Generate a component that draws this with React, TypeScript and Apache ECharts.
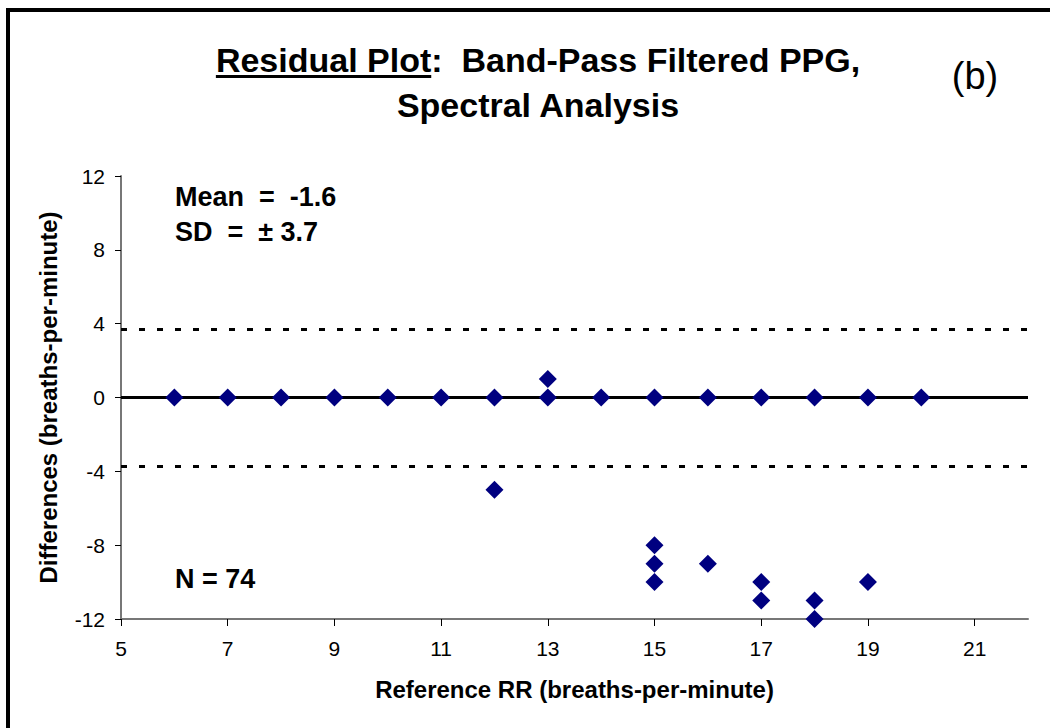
import React, { useEffect, useRef } from "react";
import * as echarts from "echarts";

// ---- data ----
const refRR: number[] = [6, 7, 8, 9, 10, 11, 12, 13, 14, 15, 16, 17, 18, 19, 20, 13, 12, 15, 15, 15, 16, 17, 17, 18, 18, 19];
const differences: number[] = [0, 0, 0, 0, 0, 0, 0, 0, 0, 0, 0, 0, 0, 0, 0, 1, -5, -8, -9, -10, -9, -10, -11, -11, -12, -10];
const xTickLabels: number[] = [5, 7, 9, 11, 13, 15, 17, 19, 21];
const zeroLine = 0;
const sdLines: number[] = [3.7, -3.7];
const meanText = "Mean  =  -1.6";
const sdText = "SD  =  ± 3.7";
const nText = "N = 74";
const titleA = "Residual Plot";
const titleB = ":  Band-Pass Filtered PPG,";
const titleLine2 = "Spectral Analysis";
const panelTag = "(b)";
const xName = "Reference RR (breaths-per-minute)";
const yName = "Differences (breaths-per-minute)";

const FONT = "'Liberation Sans', Arial, Helvetica, sans-serif";

function measure(text: string, font: string): number {
  const c = document.createElement("canvas").getContext("2d");
  if (!c) return text.length * 10;
  c.font = font;
  return c.measureText(text).width;
}

export default function App() {
  const ref = useRef<HTMLDivElement>(null);
  useEffect(() => {
    if (!ref.current) return;
    const chart = echarts.init(ref.current, null, { renderer: "svg" });
    const titleSize = 34;
    const titleFont = `bold ${titleSize}px ${FONT}`;
    const wA = measure(titleA, titleFont);
    const wAll = measure(titleA + titleB, titleFont);
    const cx = 538;
    const startX = cx - wAll / 2;

    const points = refRR.map((x, i) => [x, differences[i]]);

    chart.setOption({
      animation: false,
      backgroundColor: "#ffffff",
      grid: { left: 121, right: 22, top: 176, bottom: 109, containLabel: false },
      xAxis: {
        type: "value",
        min: 5,
        max: 22,
        name: xName,
        nameLocation: "middle",
        nameGap: 58,
        nameTextStyle: { fontFamily: FONT, fontWeight: "bold", fontSize: 24, color: "#000" },
        axisLine: { show: true, onZero: false, lineStyle: { color: "#777", width: 2 } },
        axisTick: { show: true, length: 7, inside: false, lineStyle: { color: "#000", width: 1 }, customValues: xTickLabels },
        axisLabel: { show: true, margin: 19, fontFamily: FONT, fontSize: 21, color: "#000", customValues: xTickLabels },
        splitLine: { show: false },
      },
      yAxis: {
        type: "value",
        min: -12,
        max: 12,
        interval: 4,
        name: yName,
        nameLocation: "middle",
        nameGap: 61,
        nameTextStyle: { fontFamily: FONT, fontWeight: "bold", fontSize: 24, color: "#000" },
        axisLine: { show: true, onZero: false, lineStyle: { color: "#777", width: 2 } },
        axisTick: { show: true, length: 6, inside: false, lineStyle: { color: "#000", width: 1 } },
        axisLabel: { show: true, margin: 16, fontFamily: FONT, fontSize: 21, color: "#000" },
        splitLine: { show: false },
      },
      series: [
        {
          type: "scatter",
          data: points,
          symbol: "diamond",
          symbolSize: 18,
          itemStyle: { color: "#000080", opacity: 1 },
          z: 5,
          markLine: {
            silent: true,
            symbol: "none",
            label: { show: false },
            z: 2,
            data: [
              { yAxis: zeroLine, lineStyle: { color: "#000", width: 3, type: "solid", opacity: 1 } },
              ...sdLines.map((v) => ({ yAxis: v, lineStyle: { color: "#000", width: 3, type: [6, 12], opacity: 1 } })),
            ],
          },
        },
      ],
      graphic: [
        {
          type: "rect",
          shape: { x: 8, y: 10, width: 1100, height: 800 },
          style: { fill: "none", stroke: "#000", lineWidth: 4 },
          silent: true,
        },
        {
          type: "text",
          x: cx,
          y: 60,
          style: { text: titleA + titleB, font: titleFont, fill: "#000", align: "center", verticalAlign: "middle" },
        },
        {
          type: "rect",
          shape: { x: startX, y: 75, width: wA, height: 3 },
          style: { fill: "#000" },
        },
        {
          type: "text",
          x: cx,
          y: 105,
          style: { text: titleLine2, font: titleFont, fill: "#000", align: "center", verticalAlign: "middle" },
        },
        {
          type: "text",
          x: 975,
          y: 76,
          style: { text: panelTag, font: `38px ${FONT}`, fill: "#000", align: "center", verticalAlign: "middle" },
        },
        {
          type: "text",
          x: 175,
          y: 197,
          style: { text: meanText, font: `bold 27px ${FONT}`, fill: "#000", align: "left", verticalAlign: "middle" },
        },
        {
          type: "text",
          x: 175,
          y: 232,
          style: { text: sdText, font: `bold 27px ${FONT}`, fill: "#000", align: "left", verticalAlign: "middle" },
        },
        {
          type: "text",
          x: 175,
          y: 579,
          style: { text: nText, font: `bold 27px ${FONT}`, fill: "#000", align: "left", verticalAlign: "middle" },
        },
      ],
    });
    return () => chart.dispose();
  }, []);
  return <div ref={ref} style={{ position: "absolute", left: 0, top: 0, width: 1050, height: 728 }} />;
}
